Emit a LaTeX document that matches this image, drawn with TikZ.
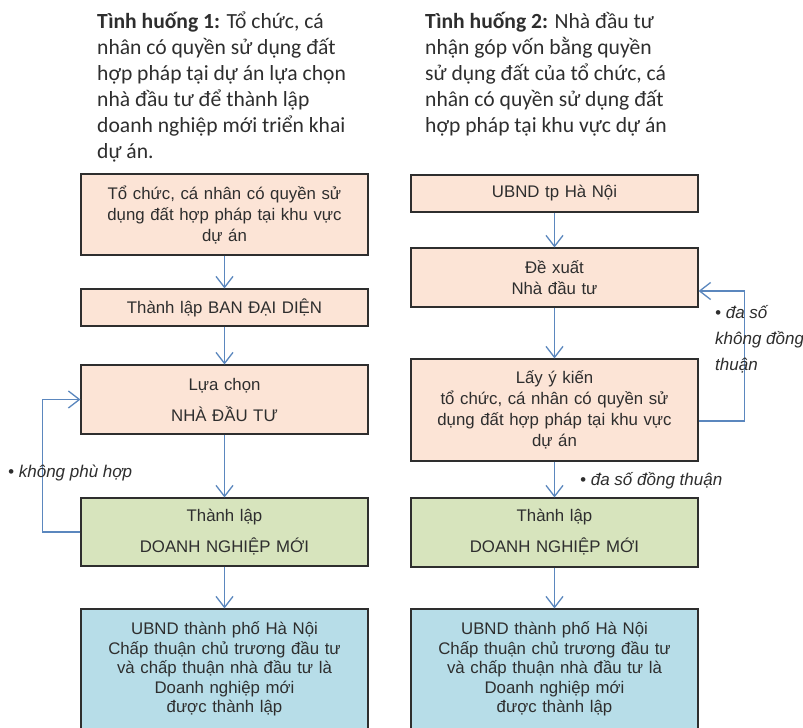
\documentclass[tikz,border=0pt]{standalone}
\usepackage{fontspec}
\usetikzlibrary{arrows.meta}
\setmainfont{Liberation Sans}
\newfontfamily\headfont{Carlito}
\newfontfamily\boxfont{Liberation Sans}
\definecolor{peach}{HTML}{FCE4D6}
\definecolor{leaf}{HTML}{D7E4BD}
\definecolor{aqua}{HTML}{B7DDE8}
\definecolor{flow}{HTML}{5B87BE}
\definecolor{ink}{HTML}{2E2E2E}
\tikzset{
  box/.style={draw=ink, line width=1.1pt, minimum width=287pt, inner sep=0pt,
    text width=280pt, align=center, text=ink,
    font={\boxfont\fontsize{16.8}{21}\selectfont}},
  peachbox/.style={box, fill=peach},
  leafbox/.style={box, fill=leaf},
  aquabox/.style={box, fill=aqua, font={\boxfont\fontsize{16.8}{19.5}\selectfont}},
  arr/.style={draw=flow, line width=1.3pt,
    -{Straight Barb[length=11pt,width=17pt,line width=1.3pt]}},
  note/.style={text=ink, inner sep=0pt, align=left,
    font={\boxfont\itshape\fontsize{17}{26}\selectfont}},
  head/.style={text=ink, inner sep=0pt, align=left, anchor=north west,
    font={\headfont\fontsize{21.6}{26}\selectfont}},
}
\begin{document}
\begin{tikzpicture}[x=1pt, y=-1pt]
  \fill[white] (0,0) rectangle (803,728);
  \useasboundingbox (0,0) rectangle (803,728);
  \clip (0,0) rectangle (803,728);

  % case headings
  \node[head] (h1) at (97,12) {\textbf{Tình huống 1:} Tổ chức, cá\\
    nhân có quyền sử dụng đất\\
    hợp pháp tại dự án lựa chọn\\
    nhà đầu tư để thành lập\\
    doanh nghiệp mới triển khai\\
    dự án.};
  \node[head] (h2) at (425,12) {\textbf{Tình huống 2:} Nhà đầu tư\\
    nhận góp vốn bằng quyền\\
    sử dụng đất của tổ chức, cá\\
    nhân có quyền sử dụng đất\\
    hợp pháp tại khu vực dự án};

  % left flow
  \node[peachbox, minimum height=81pt] (L1) at (224.5,214.5)
    {Tổ chức, cá nhân có quyền sử\\dụng đất hợp pháp tại khu vực\\dự án};
  \node[peachbox, minimum height=37pt] (L2) at (224.5,307.5)
    {Thành lập BAN ĐẠI DIỆN};
  \node[peachbox, minimum height=69pt] (L3) at (224.5,399.5)
    {Lựa chọn\\[10pt]NHÀ ĐẦU TƯ};
  \node[leafbox, minimum height=68pt] (L4) at (224.5,532)
    {Thành lập\\[10pt]DOANH NGHIỆP MỚI};
  \node[aquabox, minimum height=120pt] (L5) at (224.5,669)
    {UBND thành phố Hà Nội\\Chấp thuận chủ trương đầu tư\\và chấp thuận nhà đầu tư là\\Doanh nghiệp mới\\được thành lập};

  \draw[arr] (L1) -- (L2);
  \draw[arr] (L2) -- (L3);
  \draw[arr] (L3) -- (L4);
  \draw[arr] (L4) -- (L5);
  \draw[arr] (L4.west) -- ++(-38,0) |- (L3.west);
  \node[note, anchor=west] (n1) at (8,473) {• không phù hợp};

  % right flow
  \node[peachbox, minimum height=37pt] (R1) at (554.5,193.5)
    {UBND tp Hà Nội};
  \node[peachbox, minimum height=59pt] (R2) at (554.5,277.5)
    {Đề xuất\\Nhà đầu tư};
  \node[peachbox, minimum height=102pt] (R3) at (554.5,410)
    {Lấy ý kiến\\tổ chức, cá nhân có quyền sử\\dụng đất hợp pháp tại khu vực\\dự án};
  \node[leafbox, minimum height=69pt] (R4) at (554.5,532.5)
    {Thành lập\\[10pt]DOANH NGHIỆP MỚI};
  \node[aquabox, minimum height=120pt] (R5) at (554.5,669)
    {UBND thành phố Hà Nội\\Chấp thuận chủ trương đầu tư\\và chấp thuận nhà đầu tư là\\Doanh nghiệp mới\\được thành lập};

  \draw[arr] (R1) -- (R2);
  \draw[arr] (R2) -- (R3);
  \draw[arr] (R3) -- (R4);
  \draw[arr] (R4) -- (R5);
  \draw[arr] ([yshift=-11pt]R3.east) -- ++(46,0) |- ([yshift=-13.5pt]R2.east);
  \node[note, anchor=west] (n2) at (715,339) {• đa số\\không đồng\\thuận};
  \node[note, anchor=west] (n3) at (580,481) {• đa số đồng thuận};
\end{tikzpicture}
\end{document}
